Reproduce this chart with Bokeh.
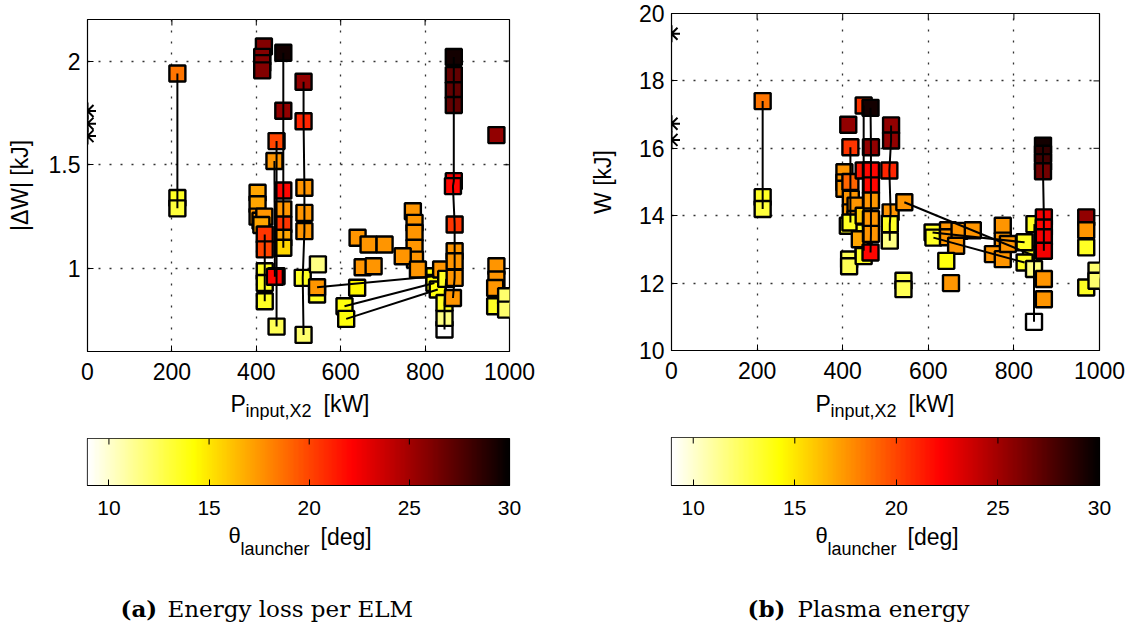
import numpy as np
from bokeh.plotting import figure
from bokeh.models import (FixedTicker, LinearColorMapper, Label, ColumnDataSource, Range1d)
from bokeh.layouts import row, column
from bokeh.embed import file_html
from bokeh.resources import INLINE

# ---------------------------------------------------------------- data
# launcher angle range shown on the colour bars
THETA_MIN, THETA_MAX = 8.93, 30.0

# (a) energy loss per ELM: input power [kW], |dW| [kJ], launcher angle [deg], shot (0 = single point)
dw_power = [213, 213, 213,
            418, 414, 414, 414,
            403, 403, 403, 410, 419, 412,
            420, 420, 420, 420, 420,
            448, 448, 448,
            443, 444,
            464, 464, 464, 464, 464, 464, 464,
            512, 512, 514, 514, 514, 510, 512,
            546, 544,
            544, 822,
            609, 822,
            613, 830,
            640, 666, 704, 652, 678, 639,
            771, 775, 775, 775, 776, 747, 783, 838,
            846, 846, 846, 850,
            868, 868, 868, 868, 868, 866, 870, 870, 870, 870, 866,
            969, 969, 969, 966, 966, 992, 992]
dw_kj = [1.94, 1.34, 1.29,
         2.07, 2.02, 1.99, 1.955,
         1.365, 1.31, 1.25, 1.23, 1.25, 1.21,
         1.164, 1.092, 0.987, 0.93, 0.842,
         1.614, 0.963, 0.72,
         1.518, 0.96,
         2.04, 1.76, 1.376, 1.285, 1.212, 1.148, 1.10,
         1.90, 1.71, 1.389, 1.268, 1.18, 0.955, 0.68,
         1.02, 0.875,
         0.91, 0.963,
         0.818, 0.93,
         0.757, 0.899,
         1.148, 1.116, 1.116, 1.006, 1.011, 0.907,
         1.276, 1.22, 1.172, 1.10, 1.043, 1.059, 0.995, 0.995,
         0.706, 0.762, 0.834, 0.95,
         2.019, 1.932, 1.859, 1.788, 1.421, 1.397, 1.212, 1.083, 1.035, 0.955, 0.858,
         1.643, 1.011, 0.947, 0.906, 0.818, 0.866, 0.802]
dw_theta = [18.5, 13.5, 13.0,
            26.0, 26.0, 26.0, 26.0,
            17.0, 17.0, 17.5, 17.5, 17.5, 17.0,
            20.5, 20.0, 13.5, 13.5, 13.5,
            20.0, 22.5, 12.5,
            17.5, 22.0,
            29.5, 25.5, 22.0, 17.5, 20.5, 17.0, 15.5,
            25.5, 21.0, 17.5, 17.5, 17.5, 13.5, 12.0,
            11.5, 13.5,
            17.5, 14.0,
            14.0, 14.0,
            14.0, 14.0,
            17.5, 17.5, 17.5, 17.5, 17.5, 14.5,
            17.5, 17.5, 17.5, 17.5, 17.5, 17.5, 17.5, 17.5,
            9.0, 11.5, 13.5, 13.5,
            29.5, 27.0, 27.0, 27.0, 22.5, 22.0, 20.5, 17.5, 17.5, 17.5, 17.5,
            25.5, 17.5, 17.5, 17.5, 13.5, 12.0, 12.0]
dw_shot = [1, 1, 1,
           0, 0, 0, 0,
           0, 0, 0, 0, 0, 0,
           2, 2, 2, 2, 2,
           3, 3, 3,
           4, 4,
           5, 5, 5, 5, 5, 5, 5,
           6, 6, 6, 6, 6, 6, 6,
           0, 0,
           7, 7,
           8, 8,
           9, 9,
           0, 0, 0, 0, 0, 0,
           0, 0, 0, 0, 0, 0, 0, 0,
           10, 10, 10, 10,
           11, 11, 11, 11, 11, 11, 11, 11, 11, 11, 11,
           0, 0, 0, 0, 0, 0, 0]
dw_reference = [1.759, 1.698, 1.638]

# (b) plasma energy: input power [kW], W [kJ], launcher angle [deg], shot (0 = single point)
w_power = [213, 213, 213,
           413, 404, 404, 404, 419, 419, 412, 415, 415, 430, 430,
           418, 418, 418,
           449, 449, 449, 449,
           451, 449, 440,
           465, 466, 466, 466, 466, 466, 466, 465,
           513, 513, 509, 512, 510, 510,
           542, 542,
           544, 840,
           610, 825,
           612, 825,
           646, 646, 673, 704, 665, 642, 653, 774, 774, 751, 774, 786,
           847, 847, 848,
           868, 868, 868, 868, 870, 870, 870, 870,
           870, 870, 969, 969, 969, 969, 993, 993]
w_kj = [17.40, 14.55, 14.20,
        16.70, 15.29, 14.99, 14.80, 14.50, 14.10, 13.70, 12.70, 12.50, 14.30, 13.90,
        16.03, 15.00, 13.80,
        17.27, 15.34, 14.00, 12.96,
        13.50, 12.80, 13.30,
        17.20, 16.03, 15.34, 14.90, 14.45, 13.90, 13.46, 12.91,
        16.68, 16.23, 15.34, 14.10, 13.75, 13.26,
        12.07, 11.82,
        14.40, 12.85,
        13.50, 13.21,
        13.35, 12.61,
        13.57, 13.36, 13.55, 13.57, 13.11, 12.66, 12.00, 13.70, 13.26, 12.86, 12.71, 13.16,
        10.85, 12.42, 13.75,
        16.08, 15.84, 15.59, 15.32, 13.95, 13.65, 13.36, 12.96,
        12.12, 11.52, 13.95, 13.57, 13.06, 11.87, 12.37, 12.07]
w_theta = [18.5, 13.5, 13.0,
           25.5, 17.5, 17.5, 17.5, 17.5, 17.5, 13.5, 12.5, 12.5, 17.5, 17.5,
           20.5, 19.0, 13.5,
           20.5, 21.5, 16.0, 22.5,
           13.5, 13.5, 17.0,
           29.5, 25.5, 22.0, 22.0, 17.5, 17.5, 17.5, 22.0,
           25.5, 25.5, 21.0, 17.5, 13.5, 11.5,
           13.0, 12.5,
           17.5, 13.5,
           13.5, 13.5,
           13.5, 13.5,
           17.5, 17.5, 17.5, 17.5, 17.5, 14.0, 17.5, 17.5, 17.5, 17.5, 17.5, 17.5,
           9.0, 11.5, 13.5,
           29.5, 28.5, 28.0, 26.5, 22.5, 22.0, 22.5, 22.5,
           17.5, 17.5, 25.5, 17.5, 13.5, 13.5, 12.0, 12.0]
w_shot = [1, 1, 1,
          0, 0, 0, 0, 0, 0, 0, 0, 0, 0, 0,
          2, 2, 2,
          3, 3, 3, 3,
          0, 0, 0,
          4, 4, 4, 4, 4, 4, 4, 4,
          5, 5, 5, 5, 5, 5,
          0, 0,
          6, 6,
          7, 7,
          8, 8,
          0, 0, 0, 0, 0, 0, 0, 0, 0, 0, 0, 0,
          9, 9, 9,
          10, 10, 10, 10, 10, 10, 10, 10,
          0, 0, 0, 0, 0, 0, 0, 0]
w_reference = [19.4, 16.73, 16.25]

power_ticks = [0, 200, 400, 600, 800, 1000]
dw_ticks = [1, 1.5, 2]
w_ticks = [10, 12, 14, 16, 18, 20]
theta_ticks = [10, 15, 20, 25, 30]


# ---------------------------------------------------------------- styling
SANS = "Liberation Sans"
SERIF = "DejaVu Serif"
PANEL_W = 566
SCATTER_H, XLABEL_H, BAR_H, FOOT_H = 385, 35, 100, 102
TICK_LEN = 6


def hot_reversed(m=256):
    """White -> yellow -> red -> black ramp (inverted 'hot')."""
    n = int(3 * m / 8)
    r = np.concatenate([np.arange(1, n + 1) / n, np.ones(m - n)])
    g = np.concatenate([np.zeros(n), np.arange(1, n + 1) / n, np.ones(m - 2 * n)])
    b = np.concatenate([np.zeros(2 * n), np.arange(1, m - 2 * n + 1) / (m - 2 * n)])
    cols = ["#%02x%02x%02x" % (int(round(255 * R)), int(round(255 * G)), int(round(255 * B)))
            for R, G, B in zip(r, g, b)]
    return cols[::-1]


PALETTE = hot_reversed()
MAPPER = LinearColorMapper(palette=PALETTE, low=THETA_MIN, high=THETA_MAX)


def style_axis(ax, ticks, size="23px"):
    ax.ticker = FixedTicker(ticks=ticks)
    ax.major_tick_in = TICK_LEN
    ax.major_tick_out = 0
    ax.minor_tick_line_color = None
    ax.axis_line_color = "black"
    ax.major_tick_line_color = "black"
    ax.major_label_text_font = SANS
    ax.major_label_text_font_size = size
    ax.major_label_text_color = "black"


def box_ticks(p, xticks, yticks, xr, yr, frame_w, frame_h):
    """Inward tick marks along the top (and right) edges of the box."""
    dy = TICK_LEN * (yr[1] - yr[0]) / frame_h
    p.segment(x0=xticks, y0=[yr[1]] * len(xticks), x1=xticks, y1=[yr[1] - dy] * len(xticks),
              line_color="black", line_width=1)
    if yticks is not None:
        dx = TICK_LEN * (xr[1] - xr[0]) / frame_w
        p.segment(x0=[xr[1]] * len(yticks), y0=yticks, x1=[xr[1] - dx] * len(yticks), y1=yticks,
                  line_color="black", line_width=1)


def text_strip(height, frame_left, frame_right, items):
    """A blank strip holding free text; x is measured in the column's own pixels
    (its frame lines up with the plots above it), y in pixels from its bottom."""
    p = figure(width=PANEL_W, height=height, x_range=Range1d(frame_left, frame_right),
               y_range=Range1d(0, height), output_backend="svg", toolbar_location=None,
               x_axis_type=None, y_axis_type=None, min_border=0)
    p.outline_line_color = None
    p.grid.visible = False
    p.border_fill_color = "white"
    for s, x, y, size, font, style in items:
        p.add_layout(Label(x=x, y=y, text=s, text_font=font, text_font_size=size,
                           text_font_style=style, text_color="black",
                           text_baseline="alphabetic"))
    return p


def scatter_panel(power, values, theta, shot, reference, yrange, yticks, ylabel,
                  left, right, top, bottom, ylabel_standoff):
    p = figure(width=PANEL_W, height=SCATTER_H, x_range=Range1d(0, 1000), y_range=Range1d(*yrange),
               output_backend="svg", toolbar_location=None,
               min_border_left=left, min_border_right=PANEL_W - right,
               min_border_top=top, min_border_bottom=SCATTER_H - bottom)
    p.background_fill_color = "white"
    p.border_fill_color = "white"
    p.outline_line_color = "black"
    p.outline_line_width = 1.2

    style_axis(p.xaxis[0], power_ticks)
    style_axis(p.yaxis[0], yticks)
    p.xaxis.major_label_standoff = 11
    p.yaxis.major_label_standoff = 7
    p.yaxis.axis_label = ylabel
    p.yaxis.axis_label_text_font = SANS
    p.yaxis.axis_label_text_font_size = "23px"
    p.yaxis.axis_label_text_font_style = "normal"
    p.yaxis.axis_label_text_color = "black"
    p.yaxis.axis_label_standoff = ylabel_standoff

    for grid in (p.xgrid[0], p.ygrid[0]):
        grid.grid_line_color = "#333333"
        grid.grid_line_dash = "2 9"
        grid.grid_line_width = 1.3

    box_ticks(p, power_ticks, yticks, (0, 1000), yrange, right - left, bottom - top)

    src = ColumnDataSource(dict(x=power, y=values, t=theta))
    p.scatter("x", "y", source=src, marker="square", size=16,
              fill_color={"field": "t", "transform": MAPPER},
              line_color="black", line_width=2.4)

    xs, ys = [], []
    for g in sorted(set(shot) - {0}):
        idx = [i for i, s in enumerate(shot) if s == g]
        xs.append([power[i] for i in idx])
        ys.append([values[i] for i in idx])
    p.multi_line(xs, ys, line_color="black", line_width=2)

    p.scatter(x=[0] * len(reference), y=reference, marker="asterisk", size=17,
              line_color="black", line_width=2)
    return p


def colorbar_panel(left, right, top, bottom):
    cb = figure(width=PANEL_W, height=BAR_H, x_range=Range1d(THETA_MIN, THETA_MAX),
                y_range=Range1d(0, 1), output_backend="svg", toolbar_location=None,
                min_border_left=left, min_border_right=PANEL_W - right,
                min_border_top=top, min_border_bottom=BAR_H - bottom)
    cb.outline_line_color = "black"
    cb.outline_line_width = 1.2
    cb.border_fill_color = "white"
    cb.grid.visible = False
    cb.yaxis.visible = False
    ramp = np.linspace(THETA_MIN, THETA_MAX, 600).reshape(1, -1)
    cb.image(image=[ramp], x=THETA_MIN, y=0, dw=THETA_MAX - THETA_MIN, dh=1,
             color_mapper=MAPPER)
    style_axis(cb.xaxis[0], theta_ticks, size="21px")
    cb.xaxis.major_label_standoff = 15
    box_ticks(cb, theta_ticks, None, (THETA_MIN, THETA_MAX), (0, 1), right - left, bottom - top)
    return cb


def xlabel_strip(frame, px, sx, kx):
    return text_strip(XLABEL_H, *frame, [
        ("P", px, 17, "23px", SANS, "normal"),
        ("input,X2", sx, 10, "18px", SANS, "normal"),
        ("[kW]", kx, 17, "23px", SANS, "normal"),
    ])


def foot_strip(frame, tx, lx, dx, tag, tag_x, caption, cap_x):
    return text_strip(FOOT_H, *frame, [
        ("\u03b8", tx, 87, "22px", SANS, "normal"),
        ("launcher", lx, 74, "18px", SANS, "normal"),
        ("[deg]", dx, 86, "23px", SANS, "normal"),
        (tag, tag_x, 14, "23px", SERIF, "bold"),
        (caption, cap_x, 14, "23px", SERIF, "normal"),
    ])


# frame edges (in each column's pixels) shared by every plot of the column
FRAME_A = (87, 509)
FRAME_B = (105, 533)

fig_a = scatter_panel(dw_power, dw_kj, dw_theta, dw_shot, dw_reference, (0.6, 2.2), dw_ticks,
                      "|\u0394W| [kJ]", FRAME_A[0], FRAME_A[1], 19, 351, 13)
fig_b = scatter_panel(w_power, w_kj, w_theta, w_shot, w_reference, (10, 20), w_ticks,
                      "W [kJ]", FRAME_B[0], FRAME_B[1], 13, 350, 20)

col_a = column(fig_a, xlabel_strip(FRAME_A, 230, 245, 323),
               colorbar_panel(FRAME_A[0], FRAME_A[1], 18, 65),
               foot_strip(FRAME_A, 228, 240, 320, "(a)", 120, "Energy loss per ELM", 167))
col_b = column(fig_b, xlabel_strip(FRAME_B, 249, 264, 342),
               colorbar_panel(FRAME_B[0], FRAME_B[1], 17, 65),
               foot_strip(FRAME_B, 249, 261, 341, "(b)", 181, "Plasma energy", 231))

layout = row(col_a, col_b)

with open("out.html", "w") as f:
    f.write(file_html(layout, INLINE))
